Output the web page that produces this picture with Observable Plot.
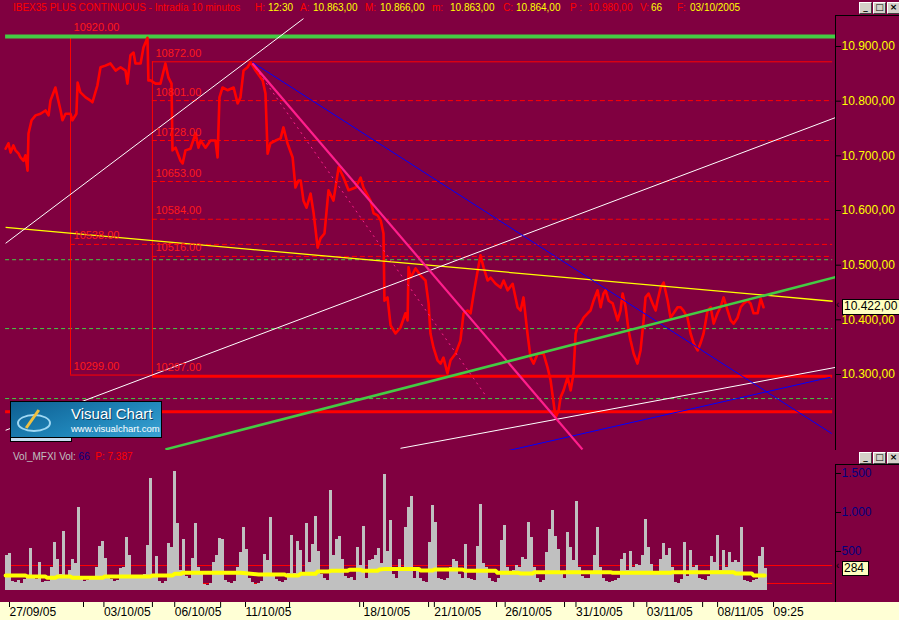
<!DOCTYPE html>
<html><head><meta charset="utf-8">
<script src="https://cdn.jsdelivr.net/npm/d3@7"></script>
<script src="https://cdn.jsdelivr.net/npm/@observablehq/plot@0.6"></script>
<style>
body{margin:0;background:#800040;}
#wrap{position:relative;width:899px;height:620px;background:#800040;overflow:hidden;font-family:"Liberation Sans",Arial,sans-serif;}
.abs{position:absolute;}
.tt{position:absolute;top:2px;font-size:10px;line-height:12px;white-space:pre;}
.btns{display:flex;gap:1px}
.btn{width:11px;height:10px;background:#d4d0c8;border:1px solid;border-color:#fff #404040 #404040 #fff;font-size:9px;line-height:9px;text-align:center;color:#000;font-weight:bold;font-family:"DejaVu Sans",sans-serif;}
#voltitle{left:13px;top:451px;font-size:10px;line-height:12px;white-space:pre;color:#c0c0c0;}
#dateband{left:0;top:602px;width:899px;height:18px;background:#ffffd5;}
.vline{background:#000;width:1px;}
.hline{background:#000;height:1px;}
.pbox{background:#ffffc0;border:1px solid #000;font-size:12px;line-height:13px;color:#000;overflow:hidden;white-space:nowrap;padding-left:1px;}
#logo{left:10px;top:401px;width:150px;height:35px;border:1px solid #000;background:linear-gradient(160deg,#0e5f92 0%,#1f84b8 55%,#3aa3d4 100%);}
#logotab{left:10px;top:437px;width:60px;height:4px;border:1px solid #000;border-top:none;background:#c8dcf0;}
</style></head>
<body><div id="wrap"></div>
<script>
// ---------- DATA ----------
const titleParts = [
  ["IBEX35 PLUS CONTINUOUS - Intradía 10 minutos", 13, "r"], ["H:", 255, "r"], ["12:30", 268, "y"],
  ["A:", 300, "r"], ["10.863,00", 313, "y"], ["M:", 365, "r"], ["10.866,00", 380, "y"],
  ["m:", 432, "r"], ["10.863,00", 450, "y"], ["C:", 503, "r"], ["10.864,00", 516, "y"],
  ["P :", 570, "r"], ["10.980,00", 588, "r"], ["V:", 640, "r"], ["66", 651, "y"],
  ["F:", 677, "r"], ["03/10/2005", 690, "y"]
];
// price: [trading day index, value]
const price = [[-0.08,10713],[0.04,10723],[0.13,10706],[0.25,10719],[0.34,10710],[0.47,10704],[0.55,10697],[0.68,10691],[0.76,10701],[0.85,10673],[0.89,10741],[1.02,10765],[1.19,10774],[1.40,10777],[1.61,10783],[1.74,10774],[1.82,10801],[2.03,10825],[2.12,10807],[2.25,10783],[2.33,10765],[2.46,10777],[2.67,10777],[2.75,10765],[2.92,10777],[2.97,10834],[3.09,10816],[3.31,10807],[3.52,10801],[3.60,10798],[3.81,10829],[3.94,10862],[4.15,10865],[4.36,10869],[4.58,10856],[4.79,10862],[5.00,10856],[5.08,10832],[5.21,10884],[5.34,10889],[5.42,10869],[5.64,10869],[5.76,10898],[5.93,10916],[5.97,10838],[6.06,10838],[6.27,10832],[6.48,10832],[6.69,10869],[6.82,10843],[6.95,10832],[6.99,10710],[7.12,10715],[7.33,10691],[7.42,10686],[7.54,10710],[7.75,10713],[7.97,10741],[8.09,10715],[8.18,10728],[8.39,10715],[8.60,10728],[8.81,10728],[8.90,10697],[8.98,10807],[9.11,10825],[9.32,10820],[9.58,10825],[9.75,10796],[9.87,10807],[10.00,10856],[10.17,10862],[10.30,10871],[10.51,10856],[10.81,10838],[10.93,10814],[11.02,10704],[11.14,10723],[11.36,10728],[11.57,10732],[11.69,10752],[11.86,10723],[12.08,10697],[12.20,10642],[12.33,10655],[12.42,10655],[12.54,10618],[12.67,10605],[12.84,10631],[12.97,10595],[13.14,10532],[13.26,10549],[13.43,10558],[13.60,10637],[13.81,10618],[14.03,10679],[14.24,10660],[14.45,10637],[14.75,10642],[14.96,10660],[15.08,10642],[15.38,10618],[15.51,10595],[15.68,10591],[15.81,10582],[15.93,10558],[15.97,10435],[16.10,10441],[16.23,10390],[16.44,10375],[16.65,10386],[16.86,10412],[16.95,10399],[16.99,10496],[17.08,10477],[17.29,10494],[17.50,10481],[17.71,10472],[17.84,10430],[17.92,10375],[18.05,10349],[18.22,10326],[18.35,10320],[18.47,10331],[18.64,10302],[18.77,10326],[18.98,10338],[19.19,10362],[19.32,10412],[19.49,10417],[19.62,10412],[19.75,10448],[19.92,10490],[20.04,10518],[20.17,10496],[20.34,10472],[20.47,10477],[20.68,10466],[20.89,10459],[21.02,10472],[21.19,10454],[21.40,10466],[21.61,10423],[21.74,10417],[21.86,10441],[22.03,10375],[22.16,10331],[22.29,10320],[22.46,10338],[22.71,10338],[22.88,10313],[23.01,10289],[23.14,10247],[23.22,10221],[23.35,10234],[23.43,10258],[23.56,10271],[23.73,10295],[23.86,10271],[23.98,10302],[24.07,10375],[24.15,10386],[24.28,10393],[24.41,10404],[24.58,10412],[24.70,10417],[24.83,10435],[25.00,10454],[25.13,10423],[25.25,10448],[25.34,10454],[25.47,10435],[25.64,10430],[25.85,10399],[25.97,10417],[26.06,10448],[26.19,10423],[26.31,10381],[26.40,10362],[26.53,10338],[26.69,10320],[26.82,10344],[26.95,10399],[27.03,10441],[27.16,10448],[27.33,10430],[27.46,10417],[27.54,10435],[27.67,10459],[27.80,10468],[27.97,10435],[28.09,10404],[28.22,10412],[28.39,10423],[28.52,10423],[28.64,10417],[28.81,10404],[28.94,10375],[29.07,10357],[29.24,10344],[29.36,10357],[29.49,10375],[29.66,10417],[29.79,10423],[29.92,10393],[30.08,10412],[30.21,10423],[30.34,10441],[30.51,10417],[30.64,10399],[30.76,10393],[30.93,10404],[31.06,10423],[31.19,10430],[31.36,10435],[31.48,10430],[31.61,10412],[31.78,10412],[31.91,10439],[32.03,10423]];
const lastPrice = 10422;

// Fibonacci boxes
const fibA = {t: 2.67, high: 10920, low: 10299, levels: [10538]};
const fibB = {t: 6.14, high: 10872, low: 10297, levels: [10801, 10728, 10653, 10584, 10516]};
const greenDashLevels = [10510, 10384, 10256];
const supportLevels = [10232];
const topLevel = 10920;

// trend lines: [t1, v1, t2, v2]
const yellowLine = [-0.08, 10569, 34.96, 10434];
const whiteLines = [[-0.08, 10540, 12.54, 10951], [-0.08, 10198, 35.08, 10770], [16.65, 10165, 35.08, 10313]];
const blueLines = [[10.38, 10871, 34.92, 10192], [21.23, 10161, 34.87, 10295]];
const pinkLine = [10.38, 10869, 24.36, 10163];
const pinkDashLine = [10.38, 10869, 20.25, 10262];
const greenTrend = [6.69, 10163, 35.08, 10478];

// volume bars (one per bar group), start day index and step
const volStart = -0.08, volStep = 0.127;
const volume = [450,470,120,100,130,90,140,170,534,150,
140,360,100,120,110,300,620,400,200,750,
160,256,397,340,1063,140,120,130,150,170,
300,564,628,405,150,140,120,130,280,290,
679,450,180,160,150,180,200,576,1430,200,
435,110,90,110,598,555,1524,854,250,653,
180,160,405,854,300,200,80,60,90,363,
450,662,653,130,100,90,120,300,482,807,
520,150,100,80,90,110,461,380,931,200,
140,120,100,130,220,705,220,628,512,230,
854,360,590,948,500,200,150,130,1281,450,
653,692,400,180,150,170,130,555,320,820,
150,380,400,450,534,340,1482,500,897,200,
150,400,300,811,1060,1204,150,300,150,120,
100,610,1089,875,160,140,130,150,300,400,
370,200,150,585,150,140,130,564,1102,340,
300,160,120,100,150,640,833,300,200,250,
320,300,420,400,867,683,300,150,100,130,
490,777,1025,692,520,200,150,739,550,380,
1140,300,180,150,160,200,450,811,300,150,
120,100,110,130,150,400,470,250,500,300,
330,320,450,905,550,330,200,230,400,600,
450,540,300,100,90,140,610,180,512,300,
320,160,140,130,180,440,360,705,250,510,
300,490,360,380,360,811,130,110,100,130,
140,440,555,280];
const volMA = [[-0.08,192],[0.76,192],[0.85,179],[1.61,179],[1.69,162],[2.03,162],[2.12,179],[2.67,179],[2.75,162],[4.03,162],[4.11,179],[6.06,179],[6.14,192],[6.99,192],[7.08,213],[7.33,213],[7.42,226],[9.87,226],[10.64,205],[11.74,205],[11.82,192],[12.33,192],[12.42,213],[13.05,213],[13.14,243],[13.60,243],[13.69,252],[14.41,252],[14.49,265],[14.96,265],[15.04,252],[15.68,252],[15.76,269],[16.02,277],[17.42,277],[17.50,256],[18.01,256],[18.09,269],[19.28,269],[19.41,252],[20.68,252],[20.76,226],[21.65,226],[21.74,218],[22.25,218],[22.33,235],[25.55,235],[25.64,226],[28.09,226],[28.18,235],[30.76,235],[30.85,218],[31.53,218],[31.61,192],[32.08,192]];
const volLevels = [320, 90];
const lastVolume = 284;
const volTicks = [500, 1000, 1500];

const priceTicks = [10300, 10400, 10500, 10600, 10700, 10800, 10900];
const dateTicks = [0, 4, 7, 10, 15, 18, 21, 24, 27, 30, 32.37];
const dateLabels = ["27/09/05","03/10/05","06/10/05","11/10/05","18/10/05","21/10/05","26/10/05","31/10/05","03/11/05","08/11/05","09:25"];
const minorDateTicks = [3.22, 6.14, 9.03, 11.95, 14.92, 17.84, 20.72, 23.60, 26.53, 29.45];

// ---------- RENDER ----------
const es = d3.formatLocale({decimal: ",", thousands: ".", grouping: [3], currency: ["", ""]});
const fmtPrice = es.format(",.2f");
const fmtVol = es.format(",.0f");
const xDomain = [-0.127, 35.08];
const tLeft = -0.08, tRight = 34.96;
const RED = "#ff0000";
const FONT = "'Liberation Sans', Arial, sans-serif";
const seg = a => ({x1: a[0], y1: a[1], x2: a[2], y2: a[3]});

const main = Plot.plot({
  width: 899, height: 435, marginLeft: 4, marginRight: 64, marginTop: 0, marginBottom: 0,
  style: {background: "transparent", fontFamily: FONT, overflow: "visible"},
  x: {domain: xDomain, axis: null},
  y: {domain: [10161, 10956.7], axis: null},
  marks: [
    Plot.ruleY(greenDashLevels, {x1: tLeft, x2: tRight, stroke: "#44cc44", strokeDasharray: "4,3"}),
    Plot.ruleY(fibA.levels, {x1: fibA.t, x2: tRight, stroke: RED, strokeDasharray: "5,3"}),
    Plot.ruleY(fibB.levels, {x1: fibB.t, x2: tRight, stroke: RED, strokeDasharray: "5,3"}),
    Plot.ruleY([fibB.high], {x1: fibB.t, x2: tRight, stroke: RED}),
    Plot.ruleY([fibA.low], {x1: fibA.t, x2: fibB.t, stroke: RED}),
    Plot.ruleY([fibB.low], {x1: fibB.t, x2: tRight, stroke: RED, strokeWidth: 3}),
    Plot.ruleY(supportLevels, {x1: tLeft, x2: tRight, stroke: RED, strokeWidth: 3}),
    Plot.ruleX([fibA.t], {y1: fibA.low, y2: fibA.high, stroke: RED}),
    Plot.ruleX([fibB.t], {y1: fibB.low, y2: fibB.high, stroke: RED}),
    Plot.ruleY([topLevel], {x1: tLeft, x2: 35.08, stroke: "#44cc44", strokeWidth: 4, dy: 1}),
    Plot.line(price, {x: d => d[0], y: d => d[1], stroke: RED, strokeWidth: 2.6, clip: true}),
    Plot.link([yellowLine].map(seg), {x1: "x1", y1: "y1", x2: "x2", y2: "y2", stroke: "#ffff00", strokeWidth: 1.3, clip: true}),
    Plot.link(whiteLines.map(seg), {x1: "x1", y1: "y1", x2: "x2", y2: "y2", stroke: "#ffffff", strokeWidth: 1, clip: true}),
    Plot.link(blueLines.map(seg), {x1: "x1", y1: "y1", x2: "x2", y2: "y2", stroke: "#0000ff", strokeWidth: 1, clip: true}),
    Plot.link([pinkDashLine].map(seg), {x1: "x1", y1: "y1", x2: "x2", y2: "y2", stroke: "#ff1e8c", strokeWidth: 1, strokeDasharray: "2,4", clip: true}),
    Plot.link([pinkLine].map(seg), {x1: "x1", y1: "y1", x2: "x2", y2: "y2", stroke: "#ff1e8c", strokeWidth: 2.2, clip: true}),
    Plot.link([greenTrend].map(seg), {x1: "x1", y1: "y1", x2: "x2", y2: "y2", stroke: "#44cc44", strokeWidth: 2.5, clip: true}),
    Plot.text([fibA.high, ...fibA.levels, fibA.low], {x: fibA.t, y: d => d, text: d => d.toFixed(2), textAnchor: "start", dx: 3, dy: -8.5, fill: "#ff1a1a", fontSize: 11}),
    Plot.text([fibB.high, ...fibB.levels, fibB.low], {x: fibB.t, y: d => d, text: d => d.toFixed(2), textAnchor: "start", dx: 3, dy: -8.5, fill: "#ff1a1a", fontSize: 11}),
    Plot.axisY(priceTicks, {anchor: "right", tickSize: 5, tickPadding: 1, tickFormat: fmtPrice, stroke: "#000", fill: "#ffff00", fontSize: 12})
  ]
});

const vol = Plot.plot({
  width: 899, height: 170, marginLeft: 4, marginRight: 64, marginTop: 14, marginBottom: 18,
  style: {background: "transparent", fontFamily: FONT, overflow: "visible"},
  x: {domain: xDomain, axis: null},
  y: {domain: [-154, 1615], axis: null},
  marks: [
    Plot.ruleY(volLevels, {x1: tLeft, x2: tRight, stroke: RED}),
    Plot.rect(volume, {x1: (d, i) => volStart + i * volStep, x2: (d, i) => volStart + (i + 1) * volStep, y1: 0, y2: d => d, fill: "#c0c0c0", shapeRendering: "crispEdges"}),
    Plot.line(volMA, {x: d => d[0], y: d => d[1], stroke: "#ffff00", strokeWidth: 4}),
    Plot.axisY(volTicks, {anchor: "right", tickSize: 5, tickPadding: 1, tickFormat: fmtVol, stroke: "#000", fill: "#000080", fontSize: 12}),
    Plot.axisX(minorDateTicks, {anchor: "bottom", tickSize: 5, tickFormat: () => "", stroke: "#000"}),
    Plot.axisX(dateTicks, {anchor: "bottom", tickSize: 5, tickPadding: 0, tickFormat: d => dateLabels[dateTicks.indexOf(d)], textAnchor: "start", dx: 2, stroke: "#000", fill: "#000", fontSize: 12})
  ]
});

const wrap = document.getElementById("wrap");
function add(html) { wrap.insertAdjacentHTML("beforeend", html); }
add('<div id="dateband" class="abs"></div>');
main.style.position = "absolute"; main.style.left = "0px"; main.style.top = "15px";
vol.style.position = "absolute"; vol.style.left = "0px"; vol.style.top = "450px";
wrap.appendChild(main);
wrap.appendChild(vol);

// frame lines of the axis boxes
add('<div class="abs vline" style="left:835px;top:15px;height:435px"></div>');
add('<div class="abs hline" style="left:835px;top:15px;width:64px"></div>');
add('<div class="abs vline" style="left:835px;top:464px;height:138px"></div>');
add('<div class="abs hline" style="left:835px;top:464px;width:64px"></div>');

// title
for (const [txt, x, c] of titleParts) {
  add(`<div class="tt" style="left:${x}px;color:${c === "y" ? "#ffff00" : "#ff0000"}">${txt}</div>`);
}
add(`<div id="voltitle" class="abs">Vol_MFXI Vol: <span style="color:#000080">66</span>  <span style="color:#ff0000">P: 7.387</span></div>`);

// window buttons
const btns = '<div class="btn">_</div><div class="btn">□</div><div class="btn">×</div>';
add(`<div class="abs btns" style="left:859px;top:2px">${btns}</div>`);
add(`<div class="abs btns" style="left:859px;top:452px">${btns}</div>`);

// last value boxes placed with the plots' own scales
const yP = main.scale("y").apply(lastPrice) + 15;
add(`<div class="abs pbox" style="left:842px;top:${yP - 8}px;width:56px;height:14px">${fmtPrice(lastPrice)}</div>`);
add(`<div class="abs" style="left:836px;top:${yP - 8}px;font-size:10px;color:#000">‹</div>`);
const yV = vol.scale("y").apply(lastVolume) + 450;
add(`<div class="abs pbox" style="left:842px;top:${yV - 7}px;width:24px;height:13px">${fmtVol(lastVolume)}</div>`);
add(`<div class="abs" style="left:836px;top:${yV - 8}px;font-size:10px;color:#000">‹</div>`);

// logo
add(`<div id="logotab" class="abs"></div>`);
add(`<div id="logo" class="abs">
  <div class="abs" style="left:6px;top:12px;width:30px;height:14px;border:2px solid #9fd8f4;border-radius:50%;"></div>
  <div class="abs" style="left:20px;top:6px;width:3px;height:22px;background:#f0c040;transform:rotate(35deg);"></div>
  <div class="abs" style="left:60px;top:3px;font-size:15px;color:#fff;font-family:'Liberation Sans',Arial;text-shadow:1px 1px 0 #0a3d5e;">Visual Chart</div>
  <div class="abs" style="left:60px;top:21px;font-size:9.5px;color:#fff;font-family:'Liberation Sans',Arial;">www.visualchart.com</div>
</div>`);
</script>
</body></html>
